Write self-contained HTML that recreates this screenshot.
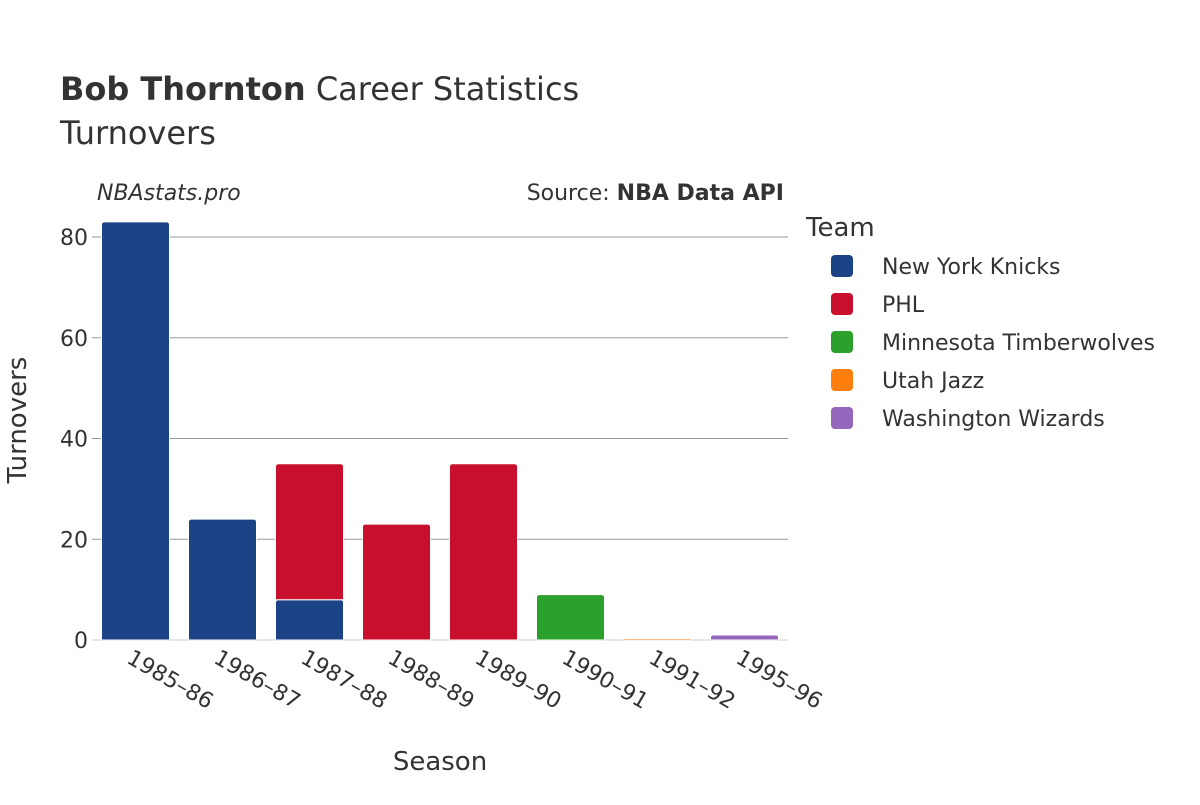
<!DOCTYPE html>
<html><head><meta charset="utf-8"><style>
body{margin:0;background:#fff}
text{font-family:"DejaVu Sans","Liberation Sans",sans-serif;fill:#333}
</style></head><body>
<svg id="c" width="1200" height="800">
<text x="60" y="100" font-size="32"><tspan font-weight="bold">Bob Thornton</tspan> Career Statistics</text>
<text x="60" y="144" font-size="32">Turnovers</text>
<text x="97" y="200" font-size="22" font-style="italic">NBAstats.pro</text>
<text x="784" y="200" font-size="22" text-anchor="end">Source: <tspan font-weight="bold">NBA Data API</tspan></text>
<g id="grid"></g><g id="bars"></g><g id="xt"></g>
<text x="440" y="770" font-size="26" text-anchor="middle">Season</text>
<text transform="translate(26,420) rotate(-90)" font-size="26" text-anchor="middle">Turnovers</text>
<text x="806" y="236" font-size="26">Team</text>
<g id="leg"></g>
</svg>
<script>
const seasons=["1985–86","1986–87","1987–88","1988–89","1989–90","1990–91","1991–92","1995–96"];
const teams=["New York Knicks","PHL","Minnesota Timberwolves","Utah Jazz","Washington Wizards"];
const colors=["#1c4386","#c8102e","#2ca02c","#ff7f0e","#9467bd"];
const nyk=[83,24,8,0,0,0,0,0];
const phl=[0,0,27,23,35,0,0,0];
const min=[0,0,0,0,0,9,0,0];
const uta=[0,0,0,0,0,0,0.3,0];
const was=[0,0,0,0,0,0,0,1];
const yTicks=[0,20,40,60,80];
const series=[nyk,phl,min,uta,was];
const NS="http://www.w3.org/2000/svg";
const x0=92,x1=788,y0=640,yTop=237,yMax=80;
const bw=(x1-x0)/seasons.length;
const y=v=>y0-(y0-yTop)*v/yMax;
function mk(t,a,p){const e=document.createElementNS(NS,t);for(const k in a)e.setAttribute(k,a[k]);p.appendChild(e);return e;}
const g=document.getElementById('grid');
yTicks.forEach(t=>{
 const l=mk('line',{x1:x0,x2:x1,y1:y(t),y2:y(t),stroke:t===0?'#e6e6e6':'#999','stroke-width':t===0?2:1},g);
 
 
 const tx=mk('text',{x:x0-4,y:y(t)+8,'font-size':22,'text-anchor':'end'},g);tx.textContent=t;
 
 
});
const b=document.getElementById('bars');
seasons.forEach((s,i)=>{
 let base=0;const cx=x0+bw*(i+0.5),w=68;
 series.forEach((ser,j)=>{
  const v=ser[i];if(!v)return;
  const top=y(base+v),bot=y(base);const h=bot-top;
  const r=Math.min(3,h/2);
  const xl=cx-w/2,xr=cx+w/2;
  const p=mk('path',{d:`M${xl},${bot}V${top+r}Q${xl},${top} ${xl+r},${top}H${xr-r}Q${xr},${top} ${xr},${top+r}V${bot}Z`,fill:colors[j],stroke:'#fff','stroke-width':1},b);
  
  
  base+=v;
 });
 const t=mk('text',{transform:`translate(${cx-10},${662}) rotate(30)`,'font-size':22},document.getElementById('xt'));
 t.textContent=s;
 
 
});
const lg=document.getElementById('leg');
teams.forEach((t,i)=>{
 const yy=266+i*38;
 const r=mk('rect',{x:831,y:yy-11,width:22,height:22,rx:4,fill:colors[i]},lg);
 
 
 const tx=mk('text',{x:882,y:yy+8,'font-size':22},lg);tx.textContent=t;
 
 
});
</script>
</body></html>
